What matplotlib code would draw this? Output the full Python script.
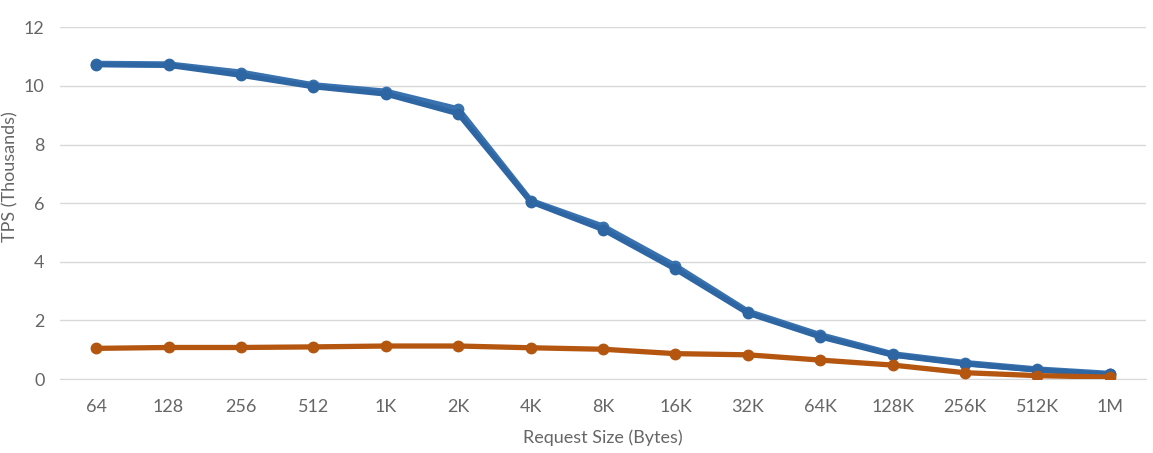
import matplotlib
matplotlib.use("Agg")
import matplotlib.pyplot as plt
import numpy as np

# categories and series (TPS in thousands)
sizes = ['64', '128', '256', '512', '1K', '2K', '4K', '8K', '16K', '32K',
         '64K', '128K', '256K', '512K', '1M']
blue_a = [10.75, 10.73, 10.45, 10.02, 9.8, 9.2, 6.08, 5.2, 3.85, 2.3,
          1.5, 0.85, 0.55, 0.33, 0.18]
blue_b = [10.72, 10.70, 10.36, 9.97, 9.72, 9.05, 6.05, 5.1, 3.75, 2.25,
          1.44, 0.82, 0.52, 0.31, 0.16]
orange = [1.05, 1.08, 1.08, 1.1, 1.13, 1.13, 1.07, 1.02, 0.87, 0.83,
          0.65, 0.48, 0.22, 0.12, 0.07]
yticks = [0, 2, 4, 6, 8, 10, 12]

plt.rcParams['font.family'] = ['Lato', 'DejaVu Sans']

f = plt.figure(figsize=(11.53, 4.53), dpi=100)
a = f.add_axes([0.052, 0.163, 0.942, 0.777])

x = np.arange(len(sizes))
blue = '#2E65A3'
a.plot(x, blue_a, color='#3A72B0', lw=4.5, marker='o', ms=7.5, zorder=3)
a.plot(x, blue_b, color=blue, lw=3.8, marker='o', ms=7.5, zorder=4)
a.plot(x, orange, color='#B4560F', lw=3.8, marker='o', ms=7.5, zorder=5)

a.set_xlim(-0.5, len(sizes) - 0.5)
a.set_ylim(0, 12)
a.set_yticks(yticks)
a.set_xticks(x)
a.set_xticklabels(sizes)
a.grid(axis='y', color='#D9D9D9', lw=1)
a.set_axisbelow(True)
for s in a.spines.values():
    s.set_visible(False)
a.spines['bottom'].set_visible(True)
a.spines['bottom'].set_color('#D9D9D9')
a.tick_params(length=0, colors='#666666', labelsize=13, pad=14)
a.tick_params(axis='y', pad=11)

a.set_xlabel('Request Size (Bytes)', color='#666666', fontsize=13, labelpad=11)
f.text(0.009, 0.61, 'TPS (Thousands)', rotation=90, color='#666666',
       fontsize=13, ha='center', va='center')

f.savefig('out.png', dpi=100)
